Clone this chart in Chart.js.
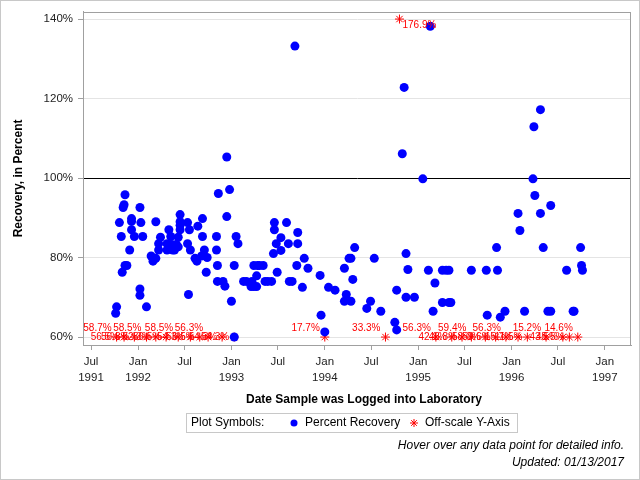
<!DOCTYPE html>
<html lang="en">
<head>
    <meta charset="UTF-8" />
    <title>Percent Recovery by Log Date</title>
    <script src="https://cdn.jsdelivr.net/npm/chart.js"></script>
    <style>
        body { margin: 0; background: #fff; }
        canvas { display: block; }
    </style>
</head>
<body>
    <canvas id="recoveryChart" width="640" height="480"></canvas>

    <script>
        // sample log date (decimal year) and percent recovery
        const sampleYear = [
            1991.77, 1991.76, 1991.80, 1991.82, 1991.83, 1991.84, 1991.85, 1991.86, 1991.86, 1991.88,
            1991.91, 1991.93, 1991.93, 1991.93, 1991.96, 1992.02, 1992.03, 1992.05, 1992.02, 1992.02,
            1992.09, 1992.14, 1992.16, 1992.19, 1992.19, 1992.22, 1992.22, 1992.24, 1992.31, 1992.31,
            1992.33, 1992.35, 1992.36, 1992.37, 1992.39, 1992.41, 1992.43, 1992.43, 1992.45, 1992.45,
            1992.45, 1992.45, 1992.53, 1992.55, 1992.53, 1992.56, 1992.61, 1992.63, 1992.69, 1992.64,
            1992.69, 1992.71, 1992.68, 1992.74, 1992.73, 1992.54, 1992.86, 1992.84, 1992.84, 1992.85,
            1992.85, 1992.95, 1992.98, 1992.95, 1993.05, 1993.07, 1993.03, 1992.91, 1992.93, 1993.00,
            1993.03, 1993.13, 1993.16, 1993.22, 1993.21, 1993.24, 1993.27, 1993.27, 1993.24, 1993.28,
            1993.30, 1993.34, 1993.36, 1993.39, 1993.43, 1993.49, 1993.45, 1993.48, 1993.46, 1993.46,
            1993.53, 1993.53, 1993.59, 1993.61, 1993.62, 1993.65, 1993.71, 1993.71, 1993.70, 1993.78,
            1993.76, 1993.82, 1993.95, 1993.68, 1994.04, 1994.11, 1993.96, 1994.00, 1994.23, 1994.21,
            1994.28, 1994.21, 1994.26, 1994.28, 1994.32, 1994.30, 1994.45, 1994.49, 1994.53, 1994.60,
            1994.75, 1994.77, 1994.77, 1994.87, 1994.89, 1994.87, 1994.96, 1995.11, 1995.18, 1995.16,
            1995.26, 1995.26, 1995.30, 1995.33, 1995.33, 1995.13, 1994.85, 1994.83, 1995.05, 1996.23,
            1996.25, 1996.42, 1996.07, 1996.31, 1996.09, 1995.84, 1996.34, 1996.74, 1996.75, 1996.76,
            1996.59, 1995.57, 1995.73, 1995.85, 1995.35, 1995.74, 1995.88, 1995.93, 1996.14, 1996.39,
            1996.42, 1996.66, 1996.67, 1996.24, 1996.31
        ];
        const recoveryPct = [
            67.6, 66.0, 88.8, 85.3, 76.3, 92.6, 93.3, 95.8, 78.0, 78.0,
            81.9, 89.8, 89.1, 87.0, 85.3, 92.6, 88.8, 85.3, 72.1, 70.5,
            67.6, 80.4, 79.1, 89.0, 79.8, 81.9, 83.5, 85.1, 83.5, 81.9,
            87.0, 85.3, 83.3, 81.9, 81.9, 83.3, 85.1, 82.7, 90.8, 89.0,
            88.1, 87.0, 88.8, 87.0, 83.5, 81.9, 79.8, 79.1, 89.8, 87.9,
            85.3, 81.9, 80.4, 80.0, 76.3, 70.7, 96.1, 85.3, 81.9, 78.0,
            74.0, 105.3, 97.1, 90.3, 85.3, 83.5, 78.0, 74.0, 72.8, 69.0,
            60.0, 74.0, 74.0, 74.0, 72.7, 72.7, 72.7, 75.4, 78.0, 78.0,
            78.0, 78.0, 74.0, 74.0, 74.0, 76.3, 81.0, 83.5, 87.0, 88.8,
            85.0, 81.8, 88.8, 83.5, 74.0, 74.0, 86.3, 83.5, 78.0, 79.8,
            72.5, 77.3, 75.5, 133.2, 72.5, 71.8, 65.5, 61.3, 70.7, 69.0,
            69.0, 77.3, 79.8, 79.8, 82.5, 74.5, 67.2, 69.0, 79.8, 66.5,
            63.7, 61.8, 71.8, 81.0, 77.0, 70.0, 70.0, 76.8, 73.6, 66.5,
            68.7, 76.8, 76.8, 76.8, 68.7, 138.2, 122.8, 106.1, 99.8, 99.8,
            95.6, 93.1, 91.1, 91.1, 86.8, 82.5, 82.5, 82.5, 78.0, 76.8,
            76.8, 76.8, 76.8, 76.8, 68.7, 65.5, 65.0, 66.5, 66.5, 66.5,
            66.5, 66.5, 66.5, 112.9, 117.2
        ];

        // results outside the 60-140% window (drawn on the edge, labelled with the true value)
        const offYear = [
            1991.77, 1991.85, 1991.96, 1992.09, 1992.19, 1992.30, 1992.43, 1992.56, 1992.66, 1992.75,
            1992.90, 1993.03, 1994.00, 1994.65, 1994.80, 1995.19, 1995.36, 1995.47, 1995.57, 1995.72,
            1995.83, 1995.94, 1996.07, 1996.17, 1996.37, 1996.55, 1996.62, 1996.71
        ];
        const offPct = [
            58.7, 56.5, 56.8, 58.5, 52.3, 56.5, 58.5, 54.3, 56.5, 56.3,
            54.3, 54.3, 17.7, 33.3, 176.9, 56.3, 42.1, 46.8, 59.4, 58.0,
            59.6, 56.3, 15.7, 11.5, 15.2, 43.5, 45.5, 14.6
        ];

        const tickDates = ['1991-07', '1992-01', '1992-07', '1993-01', '1993-07', '1994-01',
                           '1994-07', '1995-01', '1995-07', '1996-01', '1996-07', '1997-01'];
        const tickLabels = [['Jul', '1991'], ['Jan', '1992'], ['Jul', ''], ['Jan', '1993'], ['Jul', ''], ['Jan', '1994'],
                            ['Jul', ''], ['Jan', '1995'], ['Jul', ''], ['Jan', '1996'], ['Jul', ''], ['Jan', '1997']];
        const yTicks = [60, 80, 100, 120, 140];
        const yLow = 60, yHigh = 140;

        const FONT = '"Liberation Sans", Arial, sans-serif';

        function monthToYear(s) {
            const [y, m] = s.split('-').map(Number);
            const start = Date.UTC(y, 0, 1), end = Date.UTC(y + 1, 0, 1);
            return y + (Date.UTC(y, m - 1, 1) - start) / (end - start);
        }

        // plot frame, axis titles, legend and footnotes
        const decor = {
            id: 'decor',
            afterDraw(chart) {
                const { ctx, chartArea: a } = chart;
                ctx.save();
                ctx.strokeStyle = '#c8c8c8';
                ctx.lineWidth = 1;
                ctx.strokeRect(0.5, 0.5, chart.width - 1, chart.height - 1);

                ctx.strokeStyle = '#a0a0a0';
                ctx.strokeRect(Math.round(a.left) + 0.5, Math.round(a.top) + 0.5,
                    Math.round(a.right - a.left) - 1, Math.round(a.bottom - a.top));

                ctx.fillStyle = '#000';
                ctx.font = 'bold 12px ' + FONT;
                ctx.textAlign = 'center';
                ctx.textBaseline = 'middle';
                ctx.fillText('Date Sample was Logged into Laboratory', (a.left + a.right) / 2 + 7, 400);
                ctx.save();
                ctx.translate(19, (a.top + a.bottom) / 2);
                ctx.rotate(-Math.PI / 2);
                ctx.fillText('Recovery, in Percent', 0, 0);
                ctx.restore();

                // legend
                ctx.strokeStyle = '#c8c8c8';
                ctx.strokeRect(186.5, 413.5, 331, 19);
                ctx.font = '12px ' + FONT;
                ctx.textAlign = 'left';
                ctx.fillStyle = '#000';
                ctx.fillText('Plot Symbols:', 191, 423);
                ctx.fillText('Percent Recovery', 305, 423);
                ctx.fillText('Off-scale Y-Axis', 425, 423);
                ctx.fillStyle = '#0000ff';
                ctx.strokeStyle = '#0000ff';
                Chart.helpers.drawPoint(ctx, { pointStyle: 'circle', radius: 3.5, borderWidth: 0 }, 294, 423);
                ctx.strokeStyle = '#ff0000';
                ctx.lineWidth = 1;
                Chart.helpers.drawPoint(ctx, { pointStyle: 'star', radius: 4, borderWidth: 1 }, 414, 423);

                // footnotes
                ctx.fillStyle = '#000';
                ctx.font = 'italic 12px ' + FONT;
                ctx.textAlign = 'right';
                ctx.fillText('Hover over any data point for detailed info.', 624, 446);
                ctx.fillText('Updated: 01/13/2017', 624, 463);
                ctx.restore();
            }
        };

        // value labels for the off-scale markers, placed to avoid each other where possible
        const offLabels = {
            id: 'offLabels',
            afterDatasetsDraw(chart) {
                const { ctx, chartArea: a } = chart;
                const meta = chart.getDatasetMeta(1);
                ctx.save();
                ctx.font = '10px ' + FONT;
                ctx.fillStyle = '#ff0000';
                ctx.textAlign = 'left';
                ctx.textBaseline = 'middle';
                const h = 9;
                const placed = [];
                const order = meta.data.map((p, i) => i).sort((i, j) => meta.data[i].x - meta.data[j].x);
                order.forEach(i => {
                    const pt = meta.data[i];
                    const text = offPct[i].toFixed(1) + '%';
                    const w = ctx.measureText(text).width;
                    const cands = [
                        { x: pt.x + 3, y: pt.y + 6 },
                        { x: pt.x - 5 - w, y: pt.y - 9 },
                        { x: pt.x - 5 - w, y: pt.y }
                    ];
                    const fits = c => c.x >= a.left && c.x + w <= a.right &&
                        c.y - h / 2 >= a.top && c.y + h / 2 <= a.bottom;
                    const free = c => placed.every(b =>
                        c.x + w <= b.x || b.x + b.w <= c.x || c.y + h / 2 <= b.y - h / 2 || b.y + h / 2 <= c.y - h / 2);
                    const c = cands.find(k => fits(k) && free(k)) || cands[2];
                    placed.push({ x: c.x, y: c.y, w: w });
                    ctx.fillText(text, c.x, c.y);
                });
                ctx.restore();
            }
        };

        const ctx = document.getElementById('recoveryChart').getContext('2d');

        new Chart(ctx, {
            type: 'scatter',
            data: {
                datasets: [
                    {
                        label: 'Percent Recovery',
                        data: sampleYear.map((x, i) => ({ x: x, y: recoveryPct[i] })),
                        pointStyle: 'circle',
                        pointRadius: 4.5,
                        pointBackgroundColor: '#0000ff',
                        pointBorderColor: '#0000ff',
                        pointBorderWidth: 0
                    },
                    {
                        label: 'Off-scale Y-Axis',
                        data: offYear.map((x, i) => ({ x: x, y: Math.min(yHigh, Math.max(yLow, offPct[i])) })),
                        pointStyle: 'star',
                        pointRadius: 4.5,
                        pointBackgroundColor: '#ff0000',
                        pointBorderColor: '#ff0000',
                        pointBorderWidth: 1
                    }
                ]
            },
            options: {
                responsive: false,
                animation: false,
                layout: { padding: { top: 11, right: 9, left: 0, bottom: 0 } },
                plugins: {
                    legend: { display: false },
                    tooltip: {
                        callbacks: {
                            label: c => c.datasetIndex === 1
                                ? 'Off-scale: ' + offPct[c.dataIndex].toFixed(1) + '%'
                                : 'Recovery: ' + c.parsed.y.toFixed(1) + '%'
                        }
                    }
                },
                scales: {
                    x: {
                        type: 'linear',
                        min: 1991.41,
                        max: 1997.28,
                        afterBuildTicks: s => { s.ticks = tickDates.map(t => ({ value: monthToYear(t) })); },
                        afterFit: s => { s.height = 135; },
                        ticks: {
                            autoSkip: false,
                            maxRotation: 0,
                            padding: 4,
                            color: '#222',
                            font: { family: FONT, size: 11.5, lineHeight: 1.4 },
                            callback: (v, i) => tickLabels[i]
                        },
                        grid: { drawOnChartArea: false, tickLength: 5, color: '#a0a0a0' },
                        border: { color: '#a0a0a0' }
                    },
                    y: {
                        min: 58,
                        max: 141.8,
                        afterBuildTicks: s => { s.ticks = yTicks.map(v => ({ value: v })); },
                        afterFit: s => { s.width = 83; },
                        ticks: {
                            padding: 5,
                            color: '#222',
                            font: { family: FONT, size: 11.5 },
                            callback: v => v + '%'
                        },
                        grid: {
                            color: c => (c.tick && c.tick.value === 100) ? '#000' : '#e4e4e4',
                            tickColor: '#a0a0a0',
                            tickLength: 5
                        },
                        border: { color: '#a0a0a0' }
                    }
                }
            },
            plugins: [offLabels, decor]
        });
    </script>
</body>
</html>
